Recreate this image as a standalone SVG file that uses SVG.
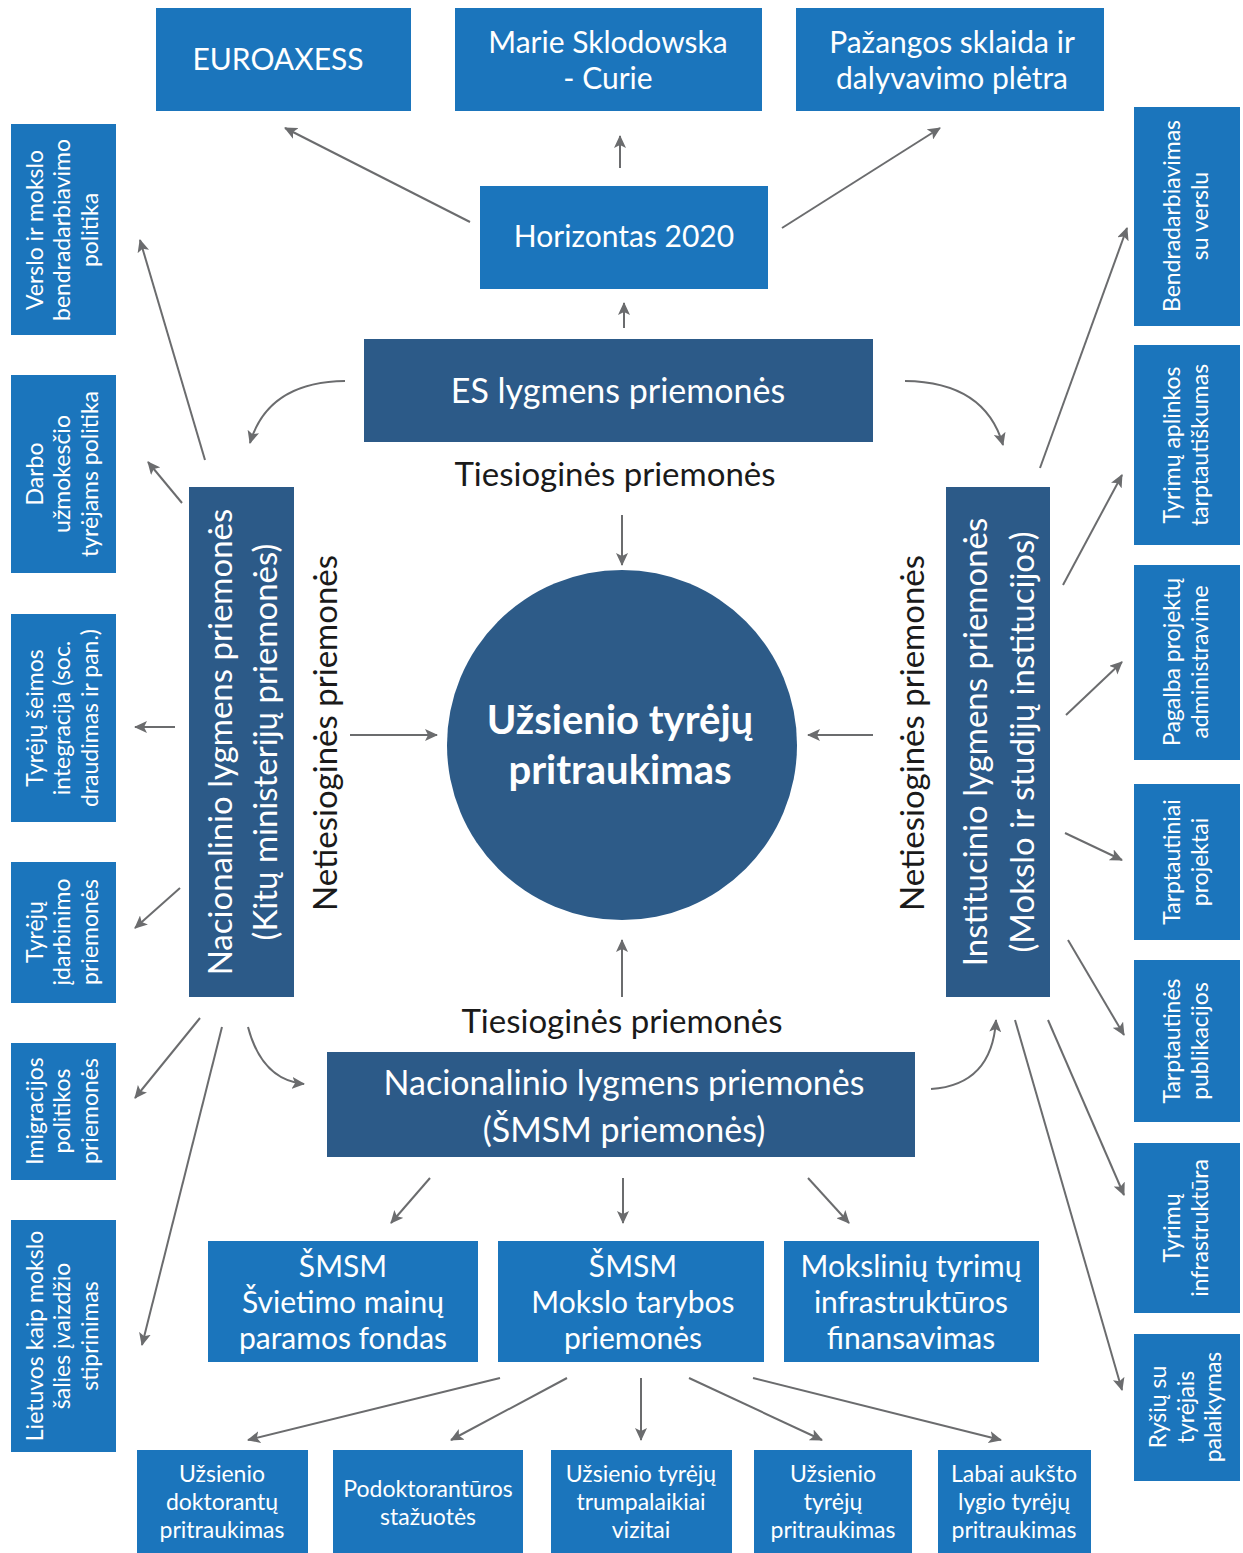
<svg xmlns="http://www.w3.org/2000/svg" width="1243" height="1553" viewBox="0 0 1243 1553">
<style>
.lb{fill:#1b75bc}
.db{fill:#2c5a88}
.t{font-family:Lato,"Noto Sans",sans-serif;fill:#ffffff;text-anchor:middle}
.k{font-family:Lato,"Noto Sans",sans-serif;fill:#1a1a1a;text-anchor:middle}
.s{font-size:23px}
.m{font-size:30px}
.b{font-size:23px}
.c{stroke:#6b6c6e;stroke-width:2;fill:none;marker-end:url(#ah)}
</style>
<defs>
<marker id="ah" markerUnits="userSpaceOnUse" markerWidth="14" markerHeight="12" refX="12" refY="6" orient="auto">
<path d="M0,0 L13,6 L0,12 L3,6 Z" fill="#6b6c6e"/>
</marker>
</defs>
<rect width="1243" height="1553" fill="#ffffff"/>

<g id="connectors">
<line class="c" x1="470" y1="222" x2="285" y2="128"/>
<line class="c" x1="620" y1="168" x2="620" y2="136"/>
<line class="c" x1="782" y1="228" x2="940" y2="128"/>
<line class="c" x1="624" y1="328" x2="624" y2="303"/>
<path class="c" d="M345,381 Q268,382 250,443"/>
<path class="c" d="M905,381 Q985,382 1003,445"/>
<line class="c" x1="622" y1="515" x2="622" y2="565"/>
<line class="c" x1="350" y1="735" x2="437" y2="735"/>
<line class="c" x1="873" y1="735" x2="808" y2="735"/>
<line class="c" x1="622" y1="997" x2="622" y2="940"/>
<line class="c" x1="205" y1="460" x2="140" y2="240"/>
<line class="c" x1="182" y1="503" x2="148" y2="462"/>
<line class="c" x1="175" y1="727" x2="135" y2="727"/>
<line class="c" x1="180" y1="888" x2="135" y2="928"/>
<line class="c" x1="200" y1="1018" x2="135" y2="1098"/>
<line class="c" x1="222" y1="1027" x2="142" y2="1345"/>
<path class="c" d="M248,1027 Q262,1080 304,1084"/>
<path class="c" d="M931,1089 Q992,1085 996,1020"/>
<line class="c" x1="430" y1="1178" x2="391" y2="1223"/>
<line class="c" x1="623" y1="1178" x2="623" y2="1223"/>
<line class="c" x1="808" y1="1178" x2="849" y2="1223"/>
<line class="c" x1="500" y1="1378" x2="248" y2="1440"/>
<line class="c" x1="567" y1="1378" x2="451" y2="1440"/>
<line class="c" x1="641" y1="1378" x2="641" y2="1440"/>
<line class="c" x1="689" y1="1378" x2="822" y2="1440"/>
<line class="c" x1="753" y1="1378" x2="1001" y2="1440"/>
<line class="c" x1="1040" y1="468" x2="1127" y2="228"/>
<line class="c" x1="1063" y1="585" x2="1122" y2="475"/>
<line class="c" x1="1066" y1="715" x2="1122" y2="662"/>
<line class="c" x1="1065" y1="833" x2="1122" y2="860"/>
<line class="c" x1="1068" y1="940" x2="1124" y2="1035"/>
<line class="c" x1="1048" y1="1020" x2="1124" y2="1195"/>
<line class="c" x1="1015" y1="1020" x2="1122" y2="1390"/>
</g>

<g id="euroaxess"><rect class="lb" x="156" y="8" width="255" height="103"/><text class="t m" x="278" y="70">EUROAXESS</text></g>
<g id="marie"><rect class="lb" x="455" y="8" width="307" height="103"/><text class="t m" x="608" y="53">Marie Sklodowska</text><text class="t m" x="608" y="89">- Curie</text></g>
<g id="pazangos"><rect class="lb" x="796" y="8" width="308" height="103"/><text class="t m" x="952" y="53">Pažangos sklaida ir</text><text class="t m" x="952" y="89">dalyvavimo plėtra</text></g>
<g id="horizontas"><rect class="lb" x="480" y="186" width="288" height="103"/><text class="t m" x="624" y="247">Horizontas 2020</text></g>
<g id="es"><rect class="db" x="364" y="339" width="509" height="103"/><text class="t" style="font-size:34px" x="618" y="403">ES lygmens priemonės</text></g>
<text class="k" style="font-size:33px" x="615" y="486">Tiesioginės priemonės</text>
<text class="k" style="font-size:33px" x="622" y="1033">Tiesioginės priemonės</text>
<text class="k" style="font-size:33px" transform="translate(325,733) rotate(-90)" y="12">Netiesioginės priemonės</text>
<text class="k" style="font-size:33px" transform="translate(912,733) rotate(-90)" y="12">Netiesioginės priemonės</text>

<g id="nacionalinio-kitu"><rect class="db" x="189" y="487" width="105" height="510"/>
<text class="t" style="font-size:33px" transform="translate(241,742) rotate(-90)"><tspan x="0" y="-9">Nacionalinio lygmens priemonės</tspan><tspan x="0" y="36">(Kitų ministerijų priemonės)</tspan></text></g>
<g id="institucinio"><rect class="db" x="946" y="487" width="104" height="510"/>
<text class="t" style="font-size:33px" transform="translate(998,742) rotate(-90)"><tspan x="0" y="-11">Institucinio lygmens priemonės</tspan><tspan x="0" y="36">(Mokslo ir studijų institucijos)</tspan></text></g>

<g id="centras"><circle cx="622" cy="745" r="175" fill="#2d5b88"/>
<text class="t" style="font-size:40px;font-weight:bold" x="620" y="734">Užsienio tyrėjų</text>
<text class="t" style="font-size:40px;font-weight:bold" x="620" y="784">pritraukimas</text></g>

<g id="nacionalinio-smsm"><rect class="db" x="327" y="1052" width="588" height="105"/>
<text class="t" style="font-size:34px" x="624" y="1095">Nacionalinio lygmens priemonės</text>
<text class="t" style="font-size:34px" x="624" y="1142">(ŠMSM priemonės)</text></g>

<g id="svietimo"><rect class="lb" x="208" y="1241" width="270" height="121"/>
<text class="t m" x="343" y="1277">ŠMSM</text><text class="t m" x="343" y="1313">Švietimo mainų</text><text class="t m" x="343" y="1349">paramos fondas</text></g>
<g id="mokslo-tarybos"><rect class="lb" x="498" y="1241" width="266" height="121"/>
<text class="t m" x="633" y="1277">ŠMSM</text><text class="t m" x="633" y="1313">Mokslo tarybos</text><text class="t m" x="633" y="1349">priemonės</text></g>
<g id="infrastrukturos"><rect class="lb" x="784" y="1241" width="255" height="121"/>
<text class="t m" x="911" y="1277">Mokslinių tyrimų</text><text class="t m" x="911" y="1313">infrastruktūros</text><text class="t m" x="911" y="1349">finansavimas</text></g>

<g id="doktorantu"><rect class="lb" x="137" y="1450" width="171" height="103"/>
<text class="t b" x="222" y="1482">Užsienio</text><text class="t b" x="222" y="1510">doktorantų</text><text class="t b" x="222" y="1538">pritraukimas</text></g>
<g id="podoktoranturos"><rect class="lb" x="333" y="1450" width="190" height="103"/>
<text class="t b" x="428" y="1497">Podoktorantūros</text><text class="t b" x="428" y="1525">stažuotės</text></g>
<g id="trumpalaikiai"><rect class="lb" x="551" y="1450" width="181" height="103"/>
<text class="t b" x="641" y="1482">Užsienio tyrėjų</text><text class="t b" x="641" y="1510">trumpalaikiai</text><text class="t b" x="641" y="1538">vizitai</text></g>
<g id="tyreju-pritraukimas"><rect class="lb" x="754" y="1450" width="158" height="103"/>
<text class="t b" x="833" y="1482">Užsienio</text><text class="t b" x="833" y="1510">tyrėjų</text><text class="t b" x="833" y="1538">pritraukimas</text></g>
<g id="labai-auksto"><rect class="lb" x="938" y="1450" width="153" height="103"/>
<text class="t b" x="1014" y="1482">Labai aukšto</text><text class="t b" x="1014" y="1510">lygio tyrėjų</text><text class="t b" x="1014" y="1538">pritraukimas</text></g>

<g id="verslo"><rect class="lb" x="11" y="124" width="105" height="211"/>
<text class="t s" transform="translate(63,230) rotate(-90)"><tspan x="0" y="-20">Verslo ir mokslo</tspan><tspan x="0" y="7">bendradarbiavimo</tspan><tspan x="0" y="35">politika</tspan></text></g>
<g id="darbo"><rect class="lb" x="11" y="375" width="105" height="198"/>
<text class="t s" transform="translate(63,474) rotate(-90)"><tspan x="0" y="-20">Darbo</tspan><tspan x="0" y="7">užmokesčio</tspan><tspan x="0" y="35">tyrėjams politika</tspan></text></g>
<g id="seimos"><rect class="lb" x="11" y="614" width="105" height="208"/>
<text class="t s" transform="translate(63,718) rotate(-90)"><tspan x="0" y="-20">Tyrėjų šeimos</tspan><tspan x="0" y="7">integracija (soc.</tspan><tspan x="0" y="35">draudimas ir pan.)</tspan></text></g>
<g id="idarbinimo"><rect class="lb" x="11" y="862" width="105" height="141"/>
<text class="t s" transform="translate(63,932) rotate(-90)"><tspan x="0" y="-20">Tyrėjų</tspan><tspan x="0" y="7">įdarbinimo</tspan><tspan x="0" y="35">priemonės</tspan></text></g>
<g id="imigracijos"><rect class="lb" x="11" y="1043" width="105" height="137"/>
<text class="t s" transform="translate(63,1111) rotate(-90)"><tspan x="0" y="-20">Imigracijos</tspan><tspan x="0" y="7">politikos</tspan><tspan x="0" y="35">priemonės</tspan></text></g>
<g id="lietuvos"><rect class="lb" x="11" y="1220" width="105" height="232"/>
<text class="t s" transform="translate(63,1336) rotate(-90)"><tspan x="0" y="-20">Lietuvos kaip mokslo</tspan><tspan x="0" y="7">šalies įvaizdžio</tspan><tspan x="0" y="35">stiprinimas</tspan></text></g>

<g id="bendradarbiavimas"><rect class="lb" x="1134" y="107" width="106" height="219"/>
<text class="t s" transform="translate(1187,216) rotate(-90)"><tspan x="0" y="-7">Bendradarbiavimas</tspan><tspan x="0" y="21">su verslu</tspan></text></g>
<g id="aplinkos"><rect class="lb" x="1134" y="345" width="106" height="200"/>
<text class="t s" transform="translate(1187,445) rotate(-90)"><tspan x="0" y="-7">Tyrimų aplinkos</tspan><tspan x="0" y="21">tarptautiškumas</tspan></text></g>
<g id="pagalba"><rect class="lb" x="1134" y="565" width="106" height="195"/>
<text class="t s" transform="translate(1187,662) rotate(-90)"><tspan x="0" y="-7">Pagalba projektų</tspan><tspan x="0" y="21">administravime</tspan></text></g>
<g id="projektai"><rect class="lb" x="1134" y="784" width="106" height="156"/>
<text class="t s" transform="translate(1187,862) rotate(-90)"><tspan x="0" y="-7">Tarptautiniai</tspan><tspan x="0" y="21">projektai</tspan></text></g>
<g id="publikacijos"><rect class="lb" x="1134" y="960" width="106" height="162"/>
<text class="t s" transform="translate(1187,1041) rotate(-90)"><tspan x="0" y="-7">Tarptautinės</tspan><tspan x="0" y="21">publikacijos</tspan></text></g>
<g id="infrastruktura"><rect class="lb" x="1134" y="1143" width="106" height="170"/>
<text class="t s" transform="translate(1187,1228) rotate(-90)"><tspan x="0" y="-7">Tyrimų</tspan><tspan x="0" y="21">infrastruktūra</tspan></text></g>
<g id="rysiu"><rect class="lb" x="1134" y="1334" width="106" height="147"/>
<text class="t s" transform="translate(1187,1407) rotate(-90)"><tspan x="0" y="-21">Ryšių su</tspan><tspan x="0" y="7">tyrėjais</tspan><tspan x="0" y="34">palaikymas</tspan></text></g>
</svg>
